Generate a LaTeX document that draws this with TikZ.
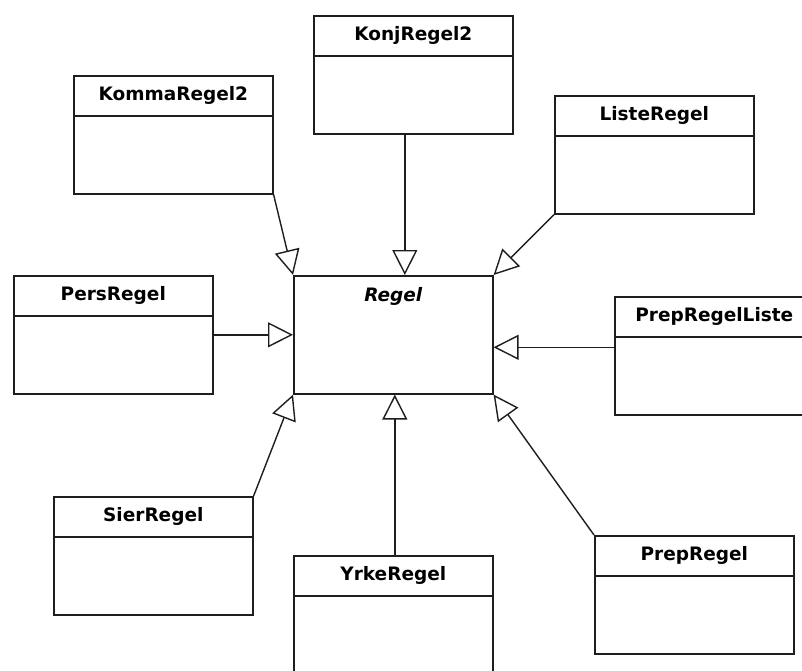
\documentclass[tikz,border=0pt]{standalone}
\usepackage{fontspec}
\newfontfamily\umlfont{DejaVu Sans}
\usetikzlibrary{arrows.meta}
\definecolor{linec}{HTML}{1E1E1E}
\begin{document}
\begin{tikzpicture}[x=1pt, y=-1pt,
  classbox/.style={draw=linec, line width=1.6pt, fill=white,
    minimum width=199pt, minimum height=118pt, inner sep=0pt, anchor=north west,
    path picture={\draw[line width=1.6pt, linec]
      ([yshift=-40pt]path picture bounding box.north west) --
      ([yshift=-40pt]path picture bounding box.north east);}},
  abstractbox/.style={draw=linec, line width=1.6pt, fill=white,
    minimum width=199pt, minimum height=118pt, inner sep=0pt, anchor=north west},
  title/.style={font=\umlfont\bfseries\fontsize{18.5}{20}\selectfont, text=black, inner sep=0pt},
  ititle/.style={title, font=\umlfont\bfseries\itshape\fontsize{18.5}{20}\selectfont},
  inherit/.style={draw=linec, line width=1.4pt,
    -{Triangle[length=25pt, width=25pt, fill=white, line width=1.4pt]}}
]
\useasboundingbox (0,0) rectangle (802,671);
\fill[white] (0,0) rectangle (802,671);
\clip (0,0) rectangle (802,671);

% abstract base class
\node[abstractbox] (regel) at (293,275) {};
\node[ititle] (regelT) at ([yshift=-21pt]regel.north) {Regel};

% subclasses
\node[classbox] (konj)  at (313,15)  {};
\node[classbox] (komma) at (73,75)   {};
\node[classbox] (liste) at (554,95)  {};
\node[classbox] (pers)  at (13,275)  {};
\node[classbox] (prepl) at (614,296) {};
\node[classbox] (sier)  at (53,496)  {};
\node[classbox] (yrke)  at (293,555) {};
\node[classbox] (prep)  at (594,535) {};

\node[title] (konjT)  at ([yshift=-20pt]konj.north)  {KonjRegel2};
\node[title] (kommaT) at ([yshift=-20pt]komma.north) {KommaRegel2};
\node[title] (listeT) at ([yshift=-20pt]liste.north) {ListeRegel};
\node[title] (persT)  at ([yshift=-20pt]pers.north)  {PersRegel};
\node[title] (preplT) at ([yshift=-20pt]prepl.north) {PrepRegelListe};
\node[title] (sierT)  at ([yshift=-20pt]sier.north)  {SierRegel};
\node[title] (yrkeT)  at ([yshift=-20pt]yrke.north)  {YrkeRegel};
\node[title] (prepT)  at ([yshift=-20pt]prep.north)  {PrepRegel};

% generalisation arrows
\draw[inherit] ([xshift=-8.5pt]konj.south) -- ([xshift=-8.5pt]konj.south |- regel.north);
\draw[inherit] (komma.south east) -- (regel.north west);
\draw[inherit] (liste.south west) -- (regel.north east);
\draw[inherit] (pers.east) -- (regel.west);
\draw[inherit] ([yshift=8.5pt]prepl.west) -- ([yshift=8.5pt]prepl.west -| regel.east);
\draw[inherit] (sier.north east) -- (regel.south west);
\draw[inherit] ([xshift=1.5pt]yrke.north) -- ([xshift=1.5pt]yrke.north |- regel.south);
\draw[inherit] (prep.north west) -- (regel.south east);
\end{tikzpicture}
\end{document}
